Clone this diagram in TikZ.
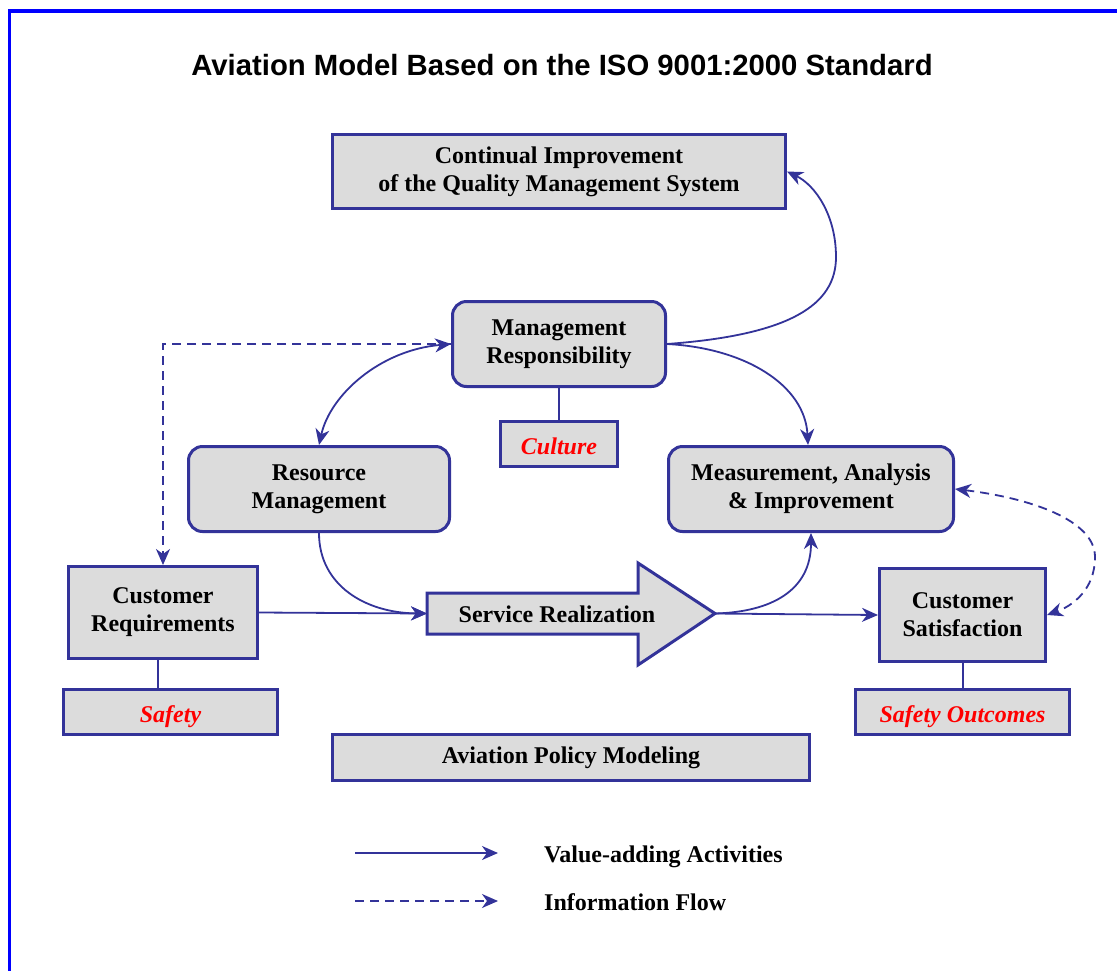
\documentclass[tikz,border=0pt]{standalone}
\usepackage{fontspec}
\setmainfont{Liberation Serif}
\newfontfamily\headfont{Liberation Sans}
\usetikzlibrary{arrows.meta}
\definecolor{qblue}{HTML}{333399}
\definecolor{qgray}{HTML}{DCDCDC}
\definecolor{qframe}{HTML}{0000FF}
\newcommand{\boxfont}{\fontsize{24}{28}\selectfont\bfseries}

\tikzset{
  box/.style={draw=qblue, fill=qgray, line width=3pt, align=center, inner sep=0pt, font=\boxfont},
  roundbox/.style={box, rounded corners=14pt},
  tagbox/.style={box, text=red, font=\boxfont\itshape, text height=25pt, text depth=5pt},
  flow/.style={draw=qblue, line width=1.8pt, -{Stealth[length=16pt,width=14pt,inset=5pt]}},
  twoway/.style={flow, {Stealth[length=16pt,width=14pt,inset=5pt]}-{Stealth[length=16pt,width=14pt,inset=5pt]}},
  info/.style={flow, dash pattern=on 9pt off 6pt},
  infotwoway/.style={twoway, dash pattern=on 9pt off 6pt},
  tie/.style={draw=qblue, line width=2pt},
  legendtext/.style={anchor=base west, inner sep=0pt, font=\boxfont},
}

\begin{document}
\begin{tikzpicture}[x=1pt, y=-1pt]

\useasboundingbox (0,0) rectangle (1117,970);
\draw[qframe, line width=3.5pt] (9.5,990) |- (1130,11);% frame

\node[font=\headfont\fontsize{29.3}{34}\selectfont\bfseries] (title) at (562,65)
  {Aviation Model Based on the ISO 9001:2000 Standard};

% boxes
\node[box, minimum width=453, minimum height=74] (ci) at (559,171.5)
  {Continual Improvement\\of the Quality Management System};
\node[roundbox, minimum width=213, minimum height=85] (mr) at (559,344)
  {Management\\Responsibility};
\node[tagbox, minimum width=117, minimum height=45] (cult) at (559,444) {Culture};
\node[roundbox, minimum width=261, minimum height=85] (rm) at (319,489)
  {Resource\\Management};
\node[roundbox, minimum width=285, minimum height=85] (mai) at (811,489)
  {Measurement, Analysis\\\& Improvement};
\node[box, minimum width=189, minimum height=92] (cr) at (163,612.5)
  {Customer\\Requirements};
\node[tagbox, minimum width=214, minimum height=45] (safe) at (170.5,712) {Safety};
\node[box, minimum width=166, minimum height=93] (cs) at (962.5,615)
  {Customer\\Satisfaction};
\node[tagbox, minimum width=214, minimum height=45] (so) at (962.5,712) {Safety Outcomes};
\node[box, minimum width=477, minimum height=46] (apm) at (571,757.5)
  {Aviation Policy Modeling};

% service realization arrow
\coordinate (srtail) at (427,613.5);
\coordinate (srtip) at (715,613.5);
\draw[qblue, fill=qgray, line width=3pt, line join=miter]
  (srtail |- 0,593) -- (638,593) -- (638,563) -- (srtip) -- (638,665)
  -- (638,634) -- (srtail |- 0,634) -- cycle;
\node[font=\boxfont, inner sep=0pt] (sr) at (557,614.5) {Service Realization};

% ties
\draw[tie] (mr.south) -- (cult.north);
\draw[tie] ([xshift=-5pt]cr.south) -- ([xshift=-5pt]cr.south |- safe.north);
\draw[tie] (cs.south) -- (so.north);

% connectors
\draw[flow] (mr.east) .. controls (790,335) and (836,305) .. (836,257)
  .. controls (836,215) and (815,185) .. (ci.east);
\draw[flow] (mr.east) .. controls (745,348) and (805,385) .. ([xshift=-3pt]mai.north);
\draw[info] (mr.west) -| (cr.north);
\draw[twoway] (rm.north) .. controls (330,395) and (380,350) .. (mr.west);
\draw[flow] (rm.south) .. controls (319,585) and (365,613) .. (srtail);
\draw[flow] (cr.east) -- (srtail);
\draw[flow] (srtip) -- (cs.west);
\draw[flow] (srtip) .. controls (772,612) and (811,590) .. (mai.south);
\draw[infotwoway] (mai.east) .. controls (1030,498) and (1095,520) .. (1095,557)
  .. controls (1095,590) and (1072,606) .. (cs.east);

% legend
\coordinate (va1) at (355,853);
\coordinate (va2) at (498,853);
\coordinate (if1) at (355,901);
\coordinate (if2) at (498,901);
\draw[flow] (va1) -- (va2);
\draw[info] (if1) -- (if2);
\node[legendtext] (valbl) at (544,862) {Value-adding Activities};
\node[legendtext] (iflbl) at (544,910) {Information Flow};

\end{tikzpicture}
\end{document}
